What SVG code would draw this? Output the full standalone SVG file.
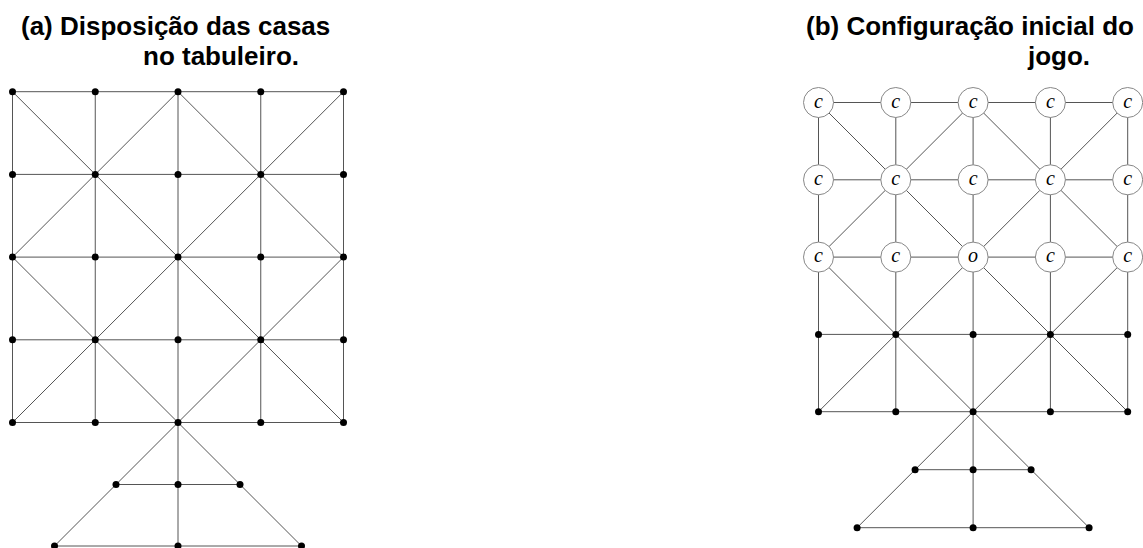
<svg xmlns="http://www.w3.org/2000/svg" width="1143" height="548" viewBox="0 0 1143 548">
<style>
.t{font-family:"Liberation Sans",Arial,sans-serif;font-weight:bold;font-size:26px;fill:#000}
.e line,.e path{stroke:#555;stroke-width:1;fill:none}
.d{fill:#000}
.n circle.c{fill:#fff;stroke:#888;stroke-width:1}
.n text{font-family:"Liberation Serif","Times New Roman",serif;font-style:italic;font-size:20px;text-anchor:middle;fill:#000}
</style>
<defs>
<circle id="dot" r="3.5" class="d"/>
</defs>
<text class="t" x="21" y="35">(a) Disposição das casas</text>
<text class="t" x="143" y="65">no tabuleiro.</text>
<text class="t" x="806" y="35">(b) Configuração inicial do</text>
<text class="t" x="1028" y="65">jogo.</text>

<g id="connectors-a" class="e">
<line x1="12.5" y1="91.7" x2="343.5" y2="91.7"/>
<line x1="12.5" y1="174.4" x2="343.5" y2="174.4"/>
<line x1="12.5" y1="257.1" x2="343.5" y2="257.1"/>
<line x1="12.5" y1="339.8" x2="343.5" y2="339.8"/>
<line x1="12.5" y1="422.5" x2="343.5" y2="422.5"/>
<line x1="12.5" y1="91.7" x2="12.5" y2="422.5"/>
<line x1="95.25" y1="91.7" x2="95.25" y2="422.5"/>
<line x1="178" y1="91.7" x2="178" y2="546"/>
<line x1="260.75" y1="91.7" x2="260.75" y2="422.5"/>
<line x1="343.5" y1="91.7" x2="343.5" y2="422.5"/>
<line x1="12.5" y1="91.7" x2="343.5" y2="422.5"/>
<line x1="343.5" y1="91.7" x2="12.5" y2="422.5"/>
<path d="M178 91.7L343.5 257.1L178 422.5L12.5 257.1Z"/>
<line x1="178" y1="422.5" x2="54.5" y2="546"/>
<line x1="178" y1="422.5" x2="301.5" y2="546"/>
<line x1="116" y1="484.5" x2="240" y2="484.5"/>
<line x1="54.5" y1="546" x2="301.5" y2="546"/>
</g>

<g id="connectors-b" class="e">
<line x1="818.5" y1="102.5" x2="1127.7" y2="102.5"/>
<line x1="818.5" y1="179.8" x2="1127.7" y2="179.8"/>
<line x1="818.5" y1="257.1" x2="1127.7" y2="257.1"/>
<line x1="818.5" y1="334.4" x2="1127.7" y2="334.4"/>
<line x1="818.5" y1="411.7" x2="1127.7" y2="411.7"/>
<line x1="818.5" y1="102.5" x2="818.5" y2="411.7"/>
<line x1="895.8" y1="102.5" x2="895.8" y2="411.7"/>
<line x1="973.1" y1="102.5" x2="973.1" y2="527.7"/>
<line x1="1050.4" y1="102.5" x2="1050.4" y2="411.7"/>
<line x1="1127.7" y1="102.5" x2="1127.7" y2="411.7"/>
<line x1="818.5" y1="102.5" x2="1127.7" y2="411.7"/>
<line x1="1127.7" y1="102.5" x2="818.5" y2="411.7"/>
<path d="M973.1 102.5L1127.7 257.1L973.1 411.7L818.5 257.1Z"/>
<line x1="973.1" y1="411.7" x2="857.1" y2="527.7"/>
<line x1="973.1" y1="411.7" x2="1089.1" y2="527.7"/>
<line x1="915.1" y1="469.7" x2="1031.1" y2="469.7"/>
<line x1="857.1" y1="527.7" x2="1089.1" y2="527.7"/>
</g>

<g id="nodes-a">
<g id="a-0-0"><use href="#dot" x="12.5" y="91.7"/></g>
<g id="a-1-0"><use href="#dot" x="95.25" y="91.7"/></g>
<g id="a-2-0"><use href="#dot" x="178" y="91.7"/></g>
<g id="a-3-0"><use href="#dot" x="260.75" y="91.7"/></g>
<g id="a-4-0"><use href="#dot" x="343.5" y="91.7"/></g>
<g id="a-0-1"><use href="#dot" x="12.5" y="174.4"/></g>
<g id="a-1-1"><use href="#dot" x="95.25" y="174.4"/></g>
<g id="a-2-1"><use href="#dot" x="178" y="174.4"/></g>
<g id="a-3-1"><use href="#dot" x="260.75" y="174.4"/></g>
<g id="a-4-1"><use href="#dot" x="343.5" y="174.4"/></g>
<g id="a-0-2"><use href="#dot" x="12.5" y="257.1"/></g>
<g id="a-1-2"><use href="#dot" x="95.25" y="257.1"/></g>
<g id="a-2-2"><use href="#dot" x="178" y="257.1"/></g>
<g id="a-3-2"><use href="#dot" x="260.75" y="257.1"/></g>
<g id="a-4-2"><use href="#dot" x="343.5" y="257.1"/></g>
<g id="a-0-3"><use href="#dot" x="12.5" y="339.8"/></g>
<g id="a-1-3"><use href="#dot" x="95.25" y="339.8"/></g>
<g id="a-2-3"><use href="#dot" x="178" y="339.8"/></g>
<g id="a-3-3"><use href="#dot" x="260.75" y="339.8"/></g>
<g id="a-4-3"><use href="#dot" x="343.5" y="339.8"/></g>
<g id="a-0-4"><use href="#dot" x="12.5" y="422.5"/></g>
<g id="a-1-4"><use href="#dot" x="95.25" y="422.5"/></g>
<g id="a-2-4"><use href="#dot" x="178" y="422.5"/></g>
<g id="a-3-4"><use href="#dot" x="260.75" y="422.5"/></g>
<g id="a-4-4"><use href="#dot" x="343.5" y="422.5"/></g>
<g id="a-t-0"><use href="#dot" x="116" y="484.5"/></g>
<g id="a-t-1"><use href="#dot" x="178" y="484.5"/></g>
<g id="a-t-2"><use href="#dot" x="240" y="484.5"/></g>
<g id="a-b-0"><use href="#dot" x="54.5" y="546"/></g>
<g id="a-b-1"><use href="#dot" x="178" y="546"/></g>
<g id="a-b-2"><use href="#dot" x="301.5" y="546"/></g>
</g>

<g id="nodes-b" class="n">
<g id="b-0-0"><circle class="c" cx="818.5" cy="102.5" r="15"/><text x="818.5" y="107.5">c</text></g>
<g id="b-1-0"><circle class="c" cx="895.8" cy="102.5" r="15"/><text x="895.8" y="107.5">c</text></g>
<g id="b-2-0"><circle class="c" cx="973.1" cy="102.5" r="15"/><text x="973.1" y="107.5">c</text></g>
<g id="b-3-0"><circle class="c" cx="1050.4" cy="102.5" r="15"/><text x="1050.4" y="107.5">c</text></g>
<g id="b-4-0"><circle class="c" cx="1127.7" cy="102.5" r="15"/><text x="1127.7" y="107.5">c</text></g>
<g id="b-0-1"><circle class="c" cx="818.5" cy="179.8" r="15"/><text x="818.5" y="184.8">c</text></g>
<g id="b-1-1"><circle class="c" cx="895.8" cy="179.8" r="15"/><text x="895.8" y="184.8">c</text></g>
<g id="b-2-1"><circle class="c" cx="973.1" cy="179.8" r="15"/><text x="973.1" y="184.8">c</text></g>
<g id="b-3-1"><circle class="c" cx="1050.4" cy="179.8" r="15"/><text x="1050.4" y="184.8">c</text></g>
<g id="b-4-1"><circle class="c" cx="1127.7" cy="179.8" r="15"/><text x="1127.7" y="184.8">c</text></g>
<g id="b-0-2"><circle class="c" cx="818.5" cy="257.1" r="15"/><text x="818.5" y="262.1">c</text></g>
<g id="b-1-2"><circle class="c" cx="895.8" cy="257.1" r="15"/><text x="895.8" y="262.1">c</text></g>
<g id="b-2-2"><circle class="c" cx="973.1" cy="257.1" r="15"/><text x="973.1" y="262.1">o</text></g>
<g id="b-3-2"><circle class="c" cx="1050.4" cy="257.1" r="15"/><text x="1050.4" y="262.1">c</text></g>
<g id="b-4-2"><circle class="c" cx="1127.7" cy="257.1" r="15"/><text x="1127.7" y="262.1">c</text></g>
<g id="b-0-3"><use href="#dot" x="818.5" y="334.4"/></g>
<g id="b-1-3"><use href="#dot" x="895.8" y="334.4"/></g>
<g id="b-2-3"><use href="#dot" x="973.1" y="334.4"/></g>
<g id="b-3-3"><use href="#dot" x="1050.4" y="334.4"/></g>
<g id="b-4-3"><use href="#dot" x="1127.7" y="334.4"/></g>
<g id="b-0-4"><use href="#dot" x="818.5" y="411.7"/></g>
<g id="b-1-4"><use href="#dot" x="895.8" y="411.7"/></g>
<g id="b-2-4"><use href="#dot" x="973.1" y="411.7"/></g>
<g id="b-3-4"><use href="#dot" x="1050.4" y="411.7"/></g>
<g id="b-4-4"><use href="#dot" x="1127.7" y="411.7"/></g>
<g id="b-t-0"><use href="#dot" x="915.1" y="469.7"/></g>
<g id="b-t-1"><use href="#dot" x="973.1" y="469.7"/></g>
<g id="b-t-2"><use href="#dot" x="1031.1" y="469.7"/></g>
<g id="b-b-0"><use href="#dot" x="857.1" y="527.7"/></g>
<g id="b-b-1"><use href="#dot" x="973.1" y="527.7"/></g>
<g id="b-b-2"><use href="#dot" x="1089.1" y="527.7"/></g>
</g>
</svg>
